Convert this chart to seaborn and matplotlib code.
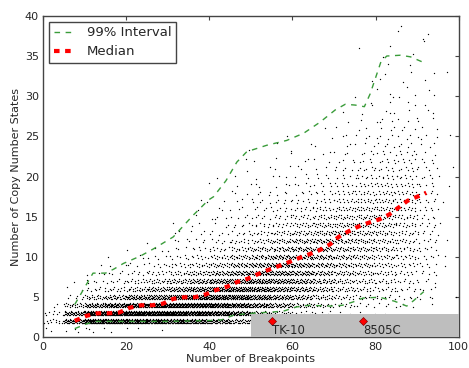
import matplotlib
matplotlib.use("Agg")
import matplotlib.pyplot as plt
import pandas as pd
import seaborn as sns

sns.set_theme(style="white")
plt.rcParams["font.family"] = ["DejaVu Sans"]
plt.rcParams["lines.scale_dashes"] = False

# Number of samples per 5-wide breakpoint bin, listed by copy number state 1, 2, 3, ...
bin_starts = list(range(0, 100, 5))
dot_counts = [
    [2, 12, 8, 2],
    [4, 55, 45, 20, 6, 2, 1],
    [3, 110, 100, 45, 20, 8, 5, 3, 1],
    [2, 110, 110, 60, 30, 12, 7, 4, 2, 1],
    [1, 100, 110, 75, 45, 20, 12, 7, 4, 2, 1],
    [1, 95, 110, 85, 55, 30, 18, 10, 6, 4, 2, 1],
    [0, 85, 105, 90, 65, 40, 25, 15, 10, 6, 4, 3, 2, 1],
    [0, 75, 95, 90, 70, 50, 35, 22, 14, 9, 6, 4, 3, 2, 2, 1, 1],
    [0, 55, 80, 85, 75, 60, 45, 30, 20, 14, 9, 6, 5, 3, 3, 2, 2, 1, 1, 1],
    [0, 35, 60, 70, 70, 62, 50, 38, 28, 20, 14, 10, 7, 5, 4, 3, 3, 2, 2, 1, 1, 1],
    [0, 0, 30, 50, 55, 55, 50, 42, 34, 26, 20, 14, 10, 8, 6, 5, 4, 3, 2, 2, 1, 1, 1],
    [0, 0, 18, 35, 42, 45, 45, 42, 38, 32, 25, 20, 15, 11, 8, 6, 5, 4, 3, 2, 2, 1, 1, 1],
    [0, 0, 8, 22, 30, 34, 36, 36, 35, 32, 28, 24, 19, 15, 11, 8, 6, 5, 4, 3, 2, 2, 1, 1, 1],
    [0, 0, 5, 14, 20, 25, 27, 28, 29, 29, 28, 26, 22, 18, 14, 11, 8, 6, 5, 4, 3, 2, 2, 1, 1, 1],
    [0, 0, 3, 8, 13, 17, 19, 21, 22, 23, 23, 23, 22, 20, 17, 14, 11, 9, 7, 5, 4, 3, 3, 2, 2, 1,
     1, 1, 0, 0, 0, 0, 0, 0, 0, 1],
    [0, 0, 2, 5, 10, 13, 15, 17, 18, 19, 20, 20, 20, 19, 18, 16, 13, 11, 9, 7, 6, 5, 4, 3, 3, 2,
     2, 1, 1, 1, 0, 1],
    [0, 0, 1, 4, 8, 10, 12, 13, 14, 15, 16, 16, 17, 17, 16, 15, 14, 12, 10, 9, 7, 6, 5, 4, 4, 3,
     3, 2, 2, 2, 1, 1, 1, 1, 1],
    [0, 0, 0, 3, 5, 7, 8, 9, 10, 11, 11, 12, 12, 12, 12, 12, 11, 10, 9, 8, 7, 6, 5, 4, 4, 3, 3,
     2, 2, 2, 1, 1, 1, 1, 0, 1, 1, 1, 1],
    [0, 0, 0, 1, 3, 4, 4, 5, 5, 6, 6, 6, 6, 6, 6, 6, 6, 6, 5, 5, 4, 4, 3, 3, 3, 2, 2, 2, 1, 1,
     1, 1, 1, 0, 1, 0, 1, 1],
    [0, 0, 0, 0, 1, 0, 1, 0, 1, 1, 0, 1, 0, 1, 1, 0, 1, 0, 1, 0, 1, 0, 0, 0, 1, 0, 0, 0, 0, 0,
     0, 0, 1],
]

# Median number of copy number states along the breakpoint axis
median_x = [7.6, 10.5, 13, 15.7, 18.3, 20.9, 23.5, 26.2, 28.8, 31.3, 33.9, 36.5, 39.1, 41.6,
            44.2, 46.7, 49.2, 51.8, 54.2, 56.8, 59.3, 61.7, 64.3, 66.7, 69.1, 71.1, 73.5, 75.9,
            78.5, 81, 83.3, 85.4, 87.7, 90, 92.2]
median_y = [2.06, 2.7, 3.0, 3.0, 3.1, 3.7, 4.0, 4.0, 4.2, 4.8, 5.0, 5.0, 5.35, 5.9, 6.3, 6.9,
            7.3, 7.9, 8.4, 8.9, 9.4, 9.9, 10.4, 10.9, 11.6, 12.5, 13.2, 13.8, 14.3, 14.7, 15.3,
            16.1, 17.0, 17.5, 18.0]

# 99% interval bounds
upper_x = [7.6, 12, 15, 17, 19.3, 23.3, 26.5, 31.3, 36.1, 39.8, 41, 44, 46.6, 49, 53.8, 58.6,
           62.7, 66.7, 70.3, 72.7, 75.1, 77.3, 78.7, 81.3, 82.7, 86, 88.4, 92]
upper_y = [4.1, 8.0, 8.0, 8.5, 9.2, 10.1, 11.0, 12.5, 15.2, 17.1, 17.5, 19.5, 21.8, 23.1, 23.9,
           24.5, 25.4, 26.8, 28.3, 29.0, 28.9, 28.7, 30.3, 34.3, 35.0, 35.1, 34.9, 34.1]
lower_x = [7.6, 10.5, 13, 20, 30, 40, 43, 46, 50, 55, 58, 61, 64, 69, 72, 74.5, 77, 81, 84.6,
           87.5, 89.2, 91.6]
lower_y = [1.1, 1.7, 2.0, 2.0, 2.0, 2.1, 2.2, 2.8, 3.0, 3.15, 3.3, 3.8, 4.0, 3.9, 4.0, 4.4,
           4.9, 5.0, 4.5, 3.9, 4.6, 5.7]

# Cell lines
cell_names = ["TK-10", "8505C"]
cell_breakpoints = [55, 77]
cell_states = [2, 2]

# Spread of each sample row inside its bin (vertical offsets in states,
# horizontal offsets as a fraction of the spacing between neighbours)
row_offsets = [0.0, 0.22, -0.17, 0.08, -0.26, 0.14, -0.05, 0.27, -0.11, 0.18, -0.21, 0.04, -0.14]
col_offsets = [0.0, 0.38, -0.29, 0.12, -0.42, 0.25, -0.08, 0.45, -0.19, 0.31, -0.36]
row_phases = [0.5, 0.2, 0.8, 0.35, 0.65, 0.1, 0.9, 0.45]
bin_width = 5

xs, ys = [], []
for b, (x0, counts) in enumerate(zip(bin_starts, dot_counts)):
    for i, n in enumerate(counts):
        state = i + 1
        phase = row_phases[(state + b) % len(row_phases)]
        for k in range(n):
            shift = col_offsets[(k + 3 * state + b) % len(col_offsets)]
            xs.append(x0 + bin_width * (k + phase + shift) / n)
            ys.append(state + row_offsets[(k + state + b) % len(row_offsets)])
samples = pd.DataFrame({"breakpoints": xs, "states": ys})

fig = plt.figure(figsize=(4.69, 3.68), dpi=100)
ax = fig.add_axes([0.092, 0.083, 0.886, 0.874])

sns.scatterplot(data=samples, x="breakpoints", y="states", ax=ax, s=0.9, marker="o",
                color="black", linewidth=0, zorder=2)

green = "#3a9c3a"
ax.plot(upper_x, upper_y, color=green, lw=1.0, dashes=(4, 4), zorder=3, label="99% Interval")
ax.plot(lower_x, lower_y, color=green, lw=1.0, dashes=(4, 4), zorder=3)
ax.plot(median_x, median_y, color="red", lw=3.0, dashes=(4, 4), zorder=4, label="Median")

ax.fill_between([50, 100], 0, 2.9, color="#bebebe", lw=0, zorder=5)
ax.plot(cell_breakpoints, cell_states, "D", color="red", ms=4, mec="#800000", mew=0.5,
        zorder=6, ls="none")
for name, bx, by in zip(cell_names, cell_breakpoints, cell_states):
    ax.text(bx, by - 0.35, name, ha="left", va="top", fontsize=8.5, zorder=7)

ax.set_xlim(0, 100)
ax.set_ylim(0, 40)
ax.set_xticks(range(0, 101, 20))
ax.set_yticks(range(0, 41, 5))
ax.set_xlabel("Number of Breakpoints", fontsize=8, labelpad=2)
ax.set_ylabel("Number of Copy Number States", fontsize=8, labelpad=3)
ax.tick_params(direction="in", length=3, width=0.8, labelsize=8, top=True, right=True,
               pad=3, color="#444444")
for sp in ax.spines.values():
    sp.set_color("#444444")
    sp.set_linewidth(1.0)

leg = ax.legend(loc="upper left", fontsize=9.5, handlelength=1.5, handletextpad=1.0,
                borderpad=0.35, labelspacing=0.45, borderaxespad=0.45, fancybox=False,
                framealpha=1)
leg.get_frame().set_edgecolor("#444444")
leg.get_frame().set_linewidth(1.0)

fig.savefig("out.png", dpi=100)
